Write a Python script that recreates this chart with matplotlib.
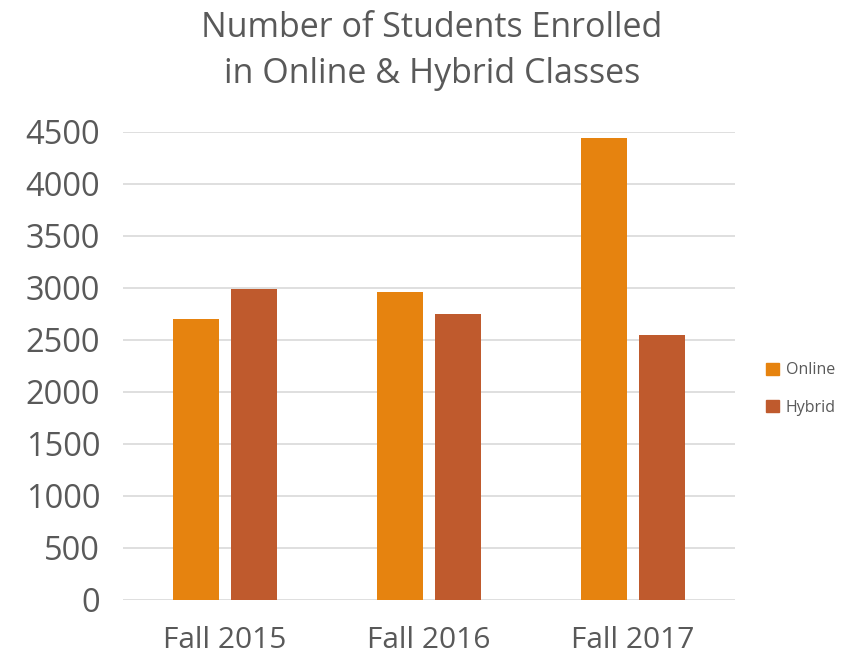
import matplotlib
matplotlib.use("Agg")
import matplotlib.pyplot as plt
import numpy as np
from matplotlib.patches import Patch

categories = ["Fall 2015", "Fall 2016", "Fall 2017"]
online = [2700, 2960, 4440]
hybrid = [2990, 2750, 2550]
yticks = [0, 500, 1000, 1500, 2000, 2500, 3000, 3500, 4000, 4500]

plt.rcParams['font.family'] = ['Open Sans', 'DejaVu Sans']
txt = '#595959'
c_on = '#E6830F'
c_hy = '#BF5A2D'

fig = plt.figure(figsize=(8.52, 6.6), dpi=100)
ax = fig.add_axes([123/852, 1-600/660, (735-123)/852, (600-132)/660])

x = np.arange(len(categories))
w = 0.225
gap = 0.059
ax.bar(x - (w+gap)/2, online, width=w, color=c_on, zorder=3)
ax.bar(x + (w+gap)/2, hybrid, width=w, color=c_hy, zorder=3)

ax.set_xlim(-0.5, 2.5)
ax.set_ylim(0, 4500)
ax.set_yticks(yticks)
ax.set_yticklabels([str(v) for v in yticks], fontsize=23.5, color=txt)
ax.set_xticks(x)
ax.set_xticklabels(categories, fontsize=21.5, color=txt)
ax.tick_params(axis='both', length=0)
ax.tick_params(axis='y', pad=16.5)
ax.tick_params(axis='x', pad=19)
ax.grid(axis='y', color='#D9D9D9', linewidth=1.2, zorder=0)
for s in ax.spines.values():
    s.set_visible(False)

fig.text(432/852, 1-51/660, "Number of Students Enrolled\nin Online & Hybrid Classes",
         ha='center', va='center', fontsize=24.5, color=txt, linespacing=1.45)

handles = [Patch(color=c_on, label='Online'), Patch(color=c_hy, label='Hybrid')]
leg = fig.legend(handles=handles, loc='center left', bbox_to_anchor=(752/852, 1-389/660),
                 frameon=False, fontsize=11.5, handlelength=0.8, handleheight=0.8,
                 handletextpad=0.4, labelspacing=1.35, labelcolor=txt)

fig.savefig("out.png", dpi=100)
